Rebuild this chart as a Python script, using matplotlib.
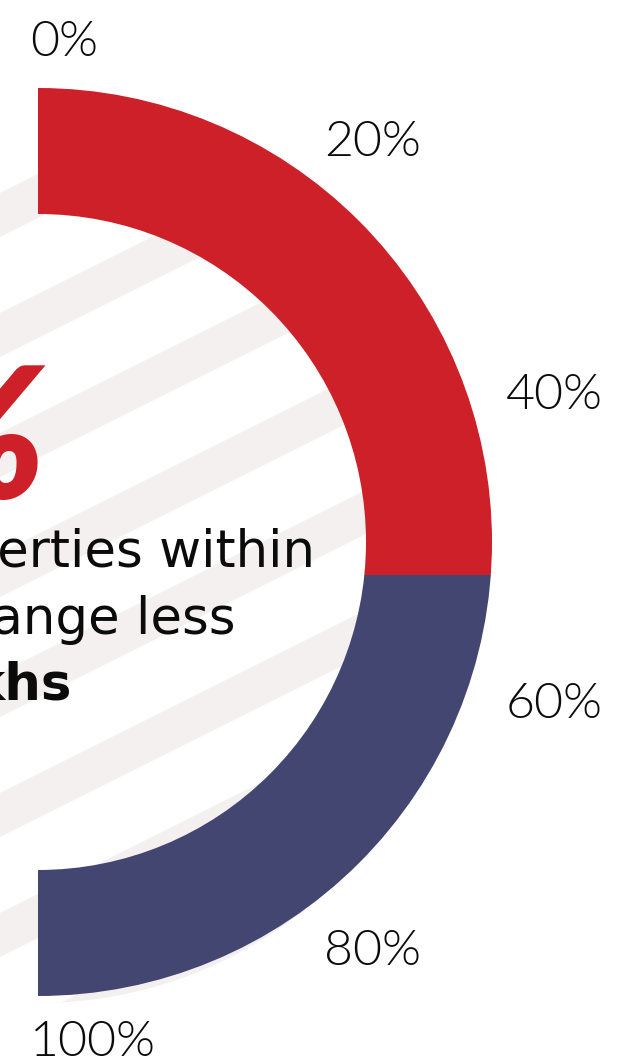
import numpy as np
import matplotlib
matplotlib.use("Agg")
import matplotlib.pyplot as plt
import matplotlib.patches as patches

# gauge data: share of the red part, tick labels along the half ring
red_share = 0.536
tick_fracs = [0.0, 0.2, 0.4, 0.6, 0.8, 1.0]
tick_labels = ["0%", "20%", "40%", "60%", "80%", "100%"]
text_lines = ["of properties within", "price range less"]
bold_line = "khs"

RED = "#CD2029"
NAVY = "#444672"
STRIPE = "#F3F0EF"
INK = "#0B0B0B"

W, H = 617, 1064
fig = plt.figure(figsize=(W / 100, H / 100), dpi=100)
ax = fig.add_axes([0, 0, 1, 1])
ax.set_xlim(0, W)
ax.set_ylim(H, 0)
ax.axis("off")

cx, cy = 38, 542
r_out, r_in = 454, 328

# diagonal background stripes, clipped to a circle
clip_circle = patches.Circle((cx, cy + 33), 428, transform=ax.transData)
xs = np.array([-100, 750])
for y0 in np.arange(-527, 1400, 120):
    top = y0 - 0.5 * xs
    verts = [(xs[0], top[0]), (xs[1], top[1]), (xs[1], top[1] + 44), (xs[0], top[0] + 44)]
    band = patches.Polygon(verts, closed=True, facecolor=STRIPE, edgecolor="none", zorder=1)
    ax.add_patch(band)
    band.set_clip_path(clip_circle)

# half ring split horizontally into red (top) and navy (bottom)
split_y = (cy - r_out) + red_share * 2 * r_out
for color, y_a, y_b in [(RED, cy - r_out - 5, split_y), (NAVY, split_y, cy + r_out + 5)]:
    w = patches.Wedge((cx, cy), r_out, -90, 90, width=r_out - r_in,
                      facecolor=color, edgecolor="none", zorder=3)
    ax.add_patch(w)
    clip = patches.Rectangle((cx - 10, y_a), r_out + 20, y_b - y_a, transform=ax.transData)
    w.set_clip_path(clip)

# percentage labels around the ring
r_lab = 500
for frac, lab in zip(tick_fracs, tick_labels):
    ang = np.pi * frac
    x = cx + r_lab * np.sin(ang) - 8
    y = cy - r_lab * np.cos(ang) + 8 * np.sin(ang)
    ax.text(x, y, lab, ha="left", va="center", fontsize=36, family="Lato",
            fontweight=300, color=INK, zorder=5)

# cropped headline text on the left
ax.text(47, 444, "53%", ha="right", va="center", fontsize=132, family="Lato",
        fontweight="heavy", fontstyle="italic", color=RED, zorder=4)
ax.text(315, 553, text_lines[0], ha="right", va="center", fontsize=37,
        family="DejaVu Sans", color=INK, zorder=4)
ax.text(236, 620, text_lines[1], ha="right", va="center", fontsize=37,
        family="DejaVu Sans", color=INK, zorder=4)
ax.text(72, 686, bold_line, ha="right", va="center", fontsize=37,
        family="DejaVu Sans", fontweight="bold", color=INK, zorder=4)

fig.savefig("out.png", dpi=100, facecolor="white")
